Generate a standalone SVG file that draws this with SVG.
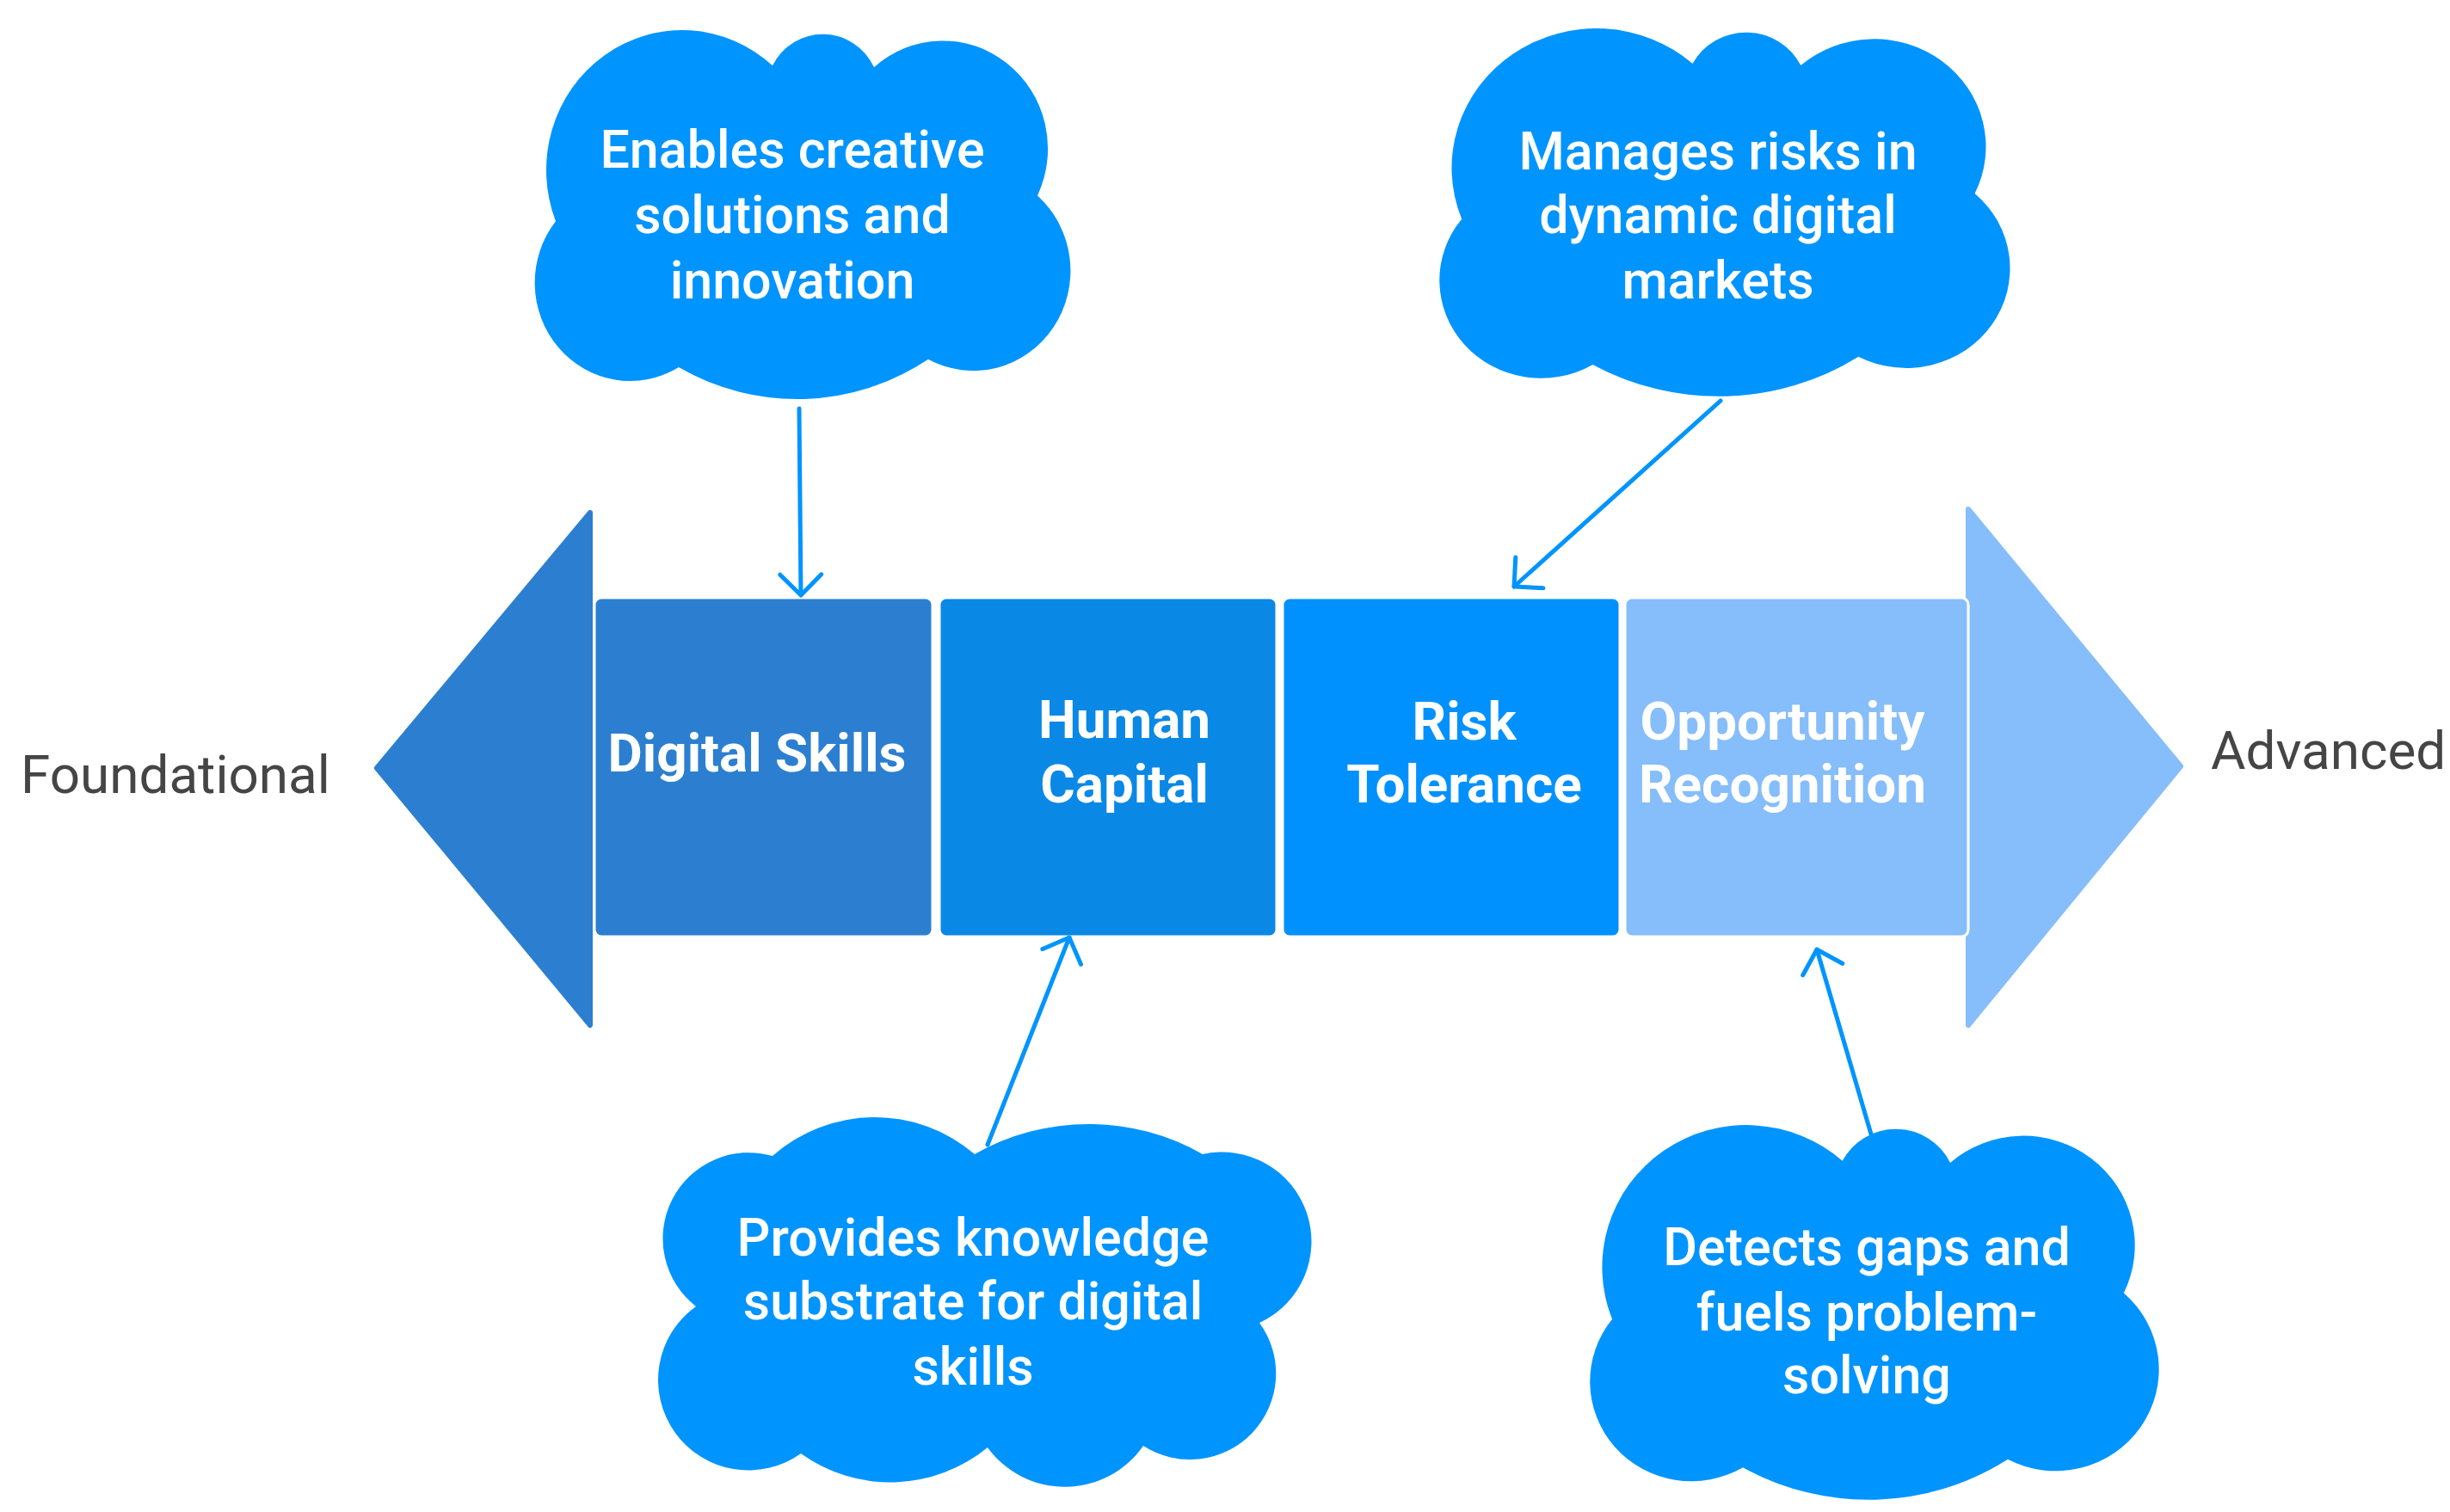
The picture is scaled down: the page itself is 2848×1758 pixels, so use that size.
<svg xmlns="http://www.w3.org/2000/svg" width="2848" height="1758" viewBox="0 0 2848 1758">
<defs>
<style>
.cloud{fill:#0094FF;}
.ct{font-family:Roboto,"Liberation Sans",sans-serif;font-size:61px;font-weight:500;fill:#FFFFFF;text-anchor:middle;}
.bt{font-family:Roboto,"Liberation Sans",sans-serif;font-size:62px;font-weight:700;fill:#FFFFFF;text-anchor:middle;}
.lbl{font-family:Roboto,"Liberation Sans",sans-serif;font-size:62px;fill:#454545;}
.box{stroke:#FFFFFF;stroke-width:3;}
.conn{fill:none;stroke:#0094FF;stroke-width:5;stroke-linecap:round;}
</style>
<path id="cloudA" d="M34,217 A158,158 0 0 1 286,41 A66,66 0 0 1 404,43 A122,122 0 0 1 594,188 A113,113 0 0 1 467,373 A281,281 0 0 1 177,382 A111,111 0 0 1 34,217 Z"/>
<marker id="chev" markerUnits="userSpaceOnUse" markerWidth="60" markerHeight="60" refX="0" refY="0" orient="auto" overflow="visible">
<path d="M-24,-24 L0,0 L-24,24" fill="none" stroke="#0094FF" stroke-width="5" stroke-linecap="round" stroke-linejoin="round"/>
</marker>
</defs>
<rect width="2848" height="1758" fill="#FFFFFF"/>

<g id="left-arrow">
<polygon points="686,596 438,893 686,1192" fill="#2C7FD0" stroke="#2C7FD0" stroke-width="6" stroke-linejoin="round"/>
</g>
<g id="right-arrow">
<polygon points="2288,592 2535,891 2288,1192" fill="#86BDFB" stroke="#86BDFB" stroke-width="6" stroke-linejoin="round"/>
</g>

<g id="node-digital-skills">
<rect class="box" x="691" y="695" width="393" height="394" rx="8" fill="#2C7FD0"/>
<text class="bt" x="880" y="897">Digital Skills</text>
</g>
<g id="node-human-capital">
<rect class="box" x="1092" y="695" width="392" height="394" rx="8" fill="#0A88E6"/>
<text class="bt" x="1307" y="858">Human</text>
<text class="bt" x="1307" y="933">Capital</text>
</g>
<g id="node-risk-tolerance">
<rect class="box" x="1491" y="695" width="392" height="394" rx="8" fill="#0091FF"/>
<text class="bt" x="1702" y="860">Risk</text>
<text class="bt" x="1702" y="933">Tolerance</text>
</g>
<g id="node-opportunity-recognition">
<rect class="box" x="1889" y="695" width="399" height="394" rx="8" fill="#86BDFB"/>
<text class="bt" x="2072" y="860">Opportunity</text>
<text class="bt" x="2072" y="933">Recognition</text>
</g>

<g id="label-foundational">
<text class="lbl" x="24" y="922">Foundational</text>
</g>
<g id="label-advanced">
<text class="lbl" x="2570" y="894">Advanced</text>
</g>

<g id="cloud-enables">
<use href="#cloudA" class="cloud" transform="translate(612,34) scale(1,1.029)"/>
<text class="ct" x="921" y="195">Enables creative</text>
<text class="ct" x="921" y="271">solutions and</text>
<text class="ct" x="921" y="347">innovation</text>
</g>
<g id="cloud-manages">
<use href="#cloudA" class="cloud" transform="translate(1663,32) scale(1.065,1.026)"/>
<text class="ct" x="1997" y="197">Manages risks in</text>
<text class="ct" x="1997" y="271">dynamic digital</text>
<text class="ct" x="1997" y="347">markets</text>
</g>
<g id="cloud-provides">
<path class="cloud" d="M809,1519 A100,100 0 0 1 898,1344 A179,179 0 0 1 1133,1342 A268,268 0 0 1 1398,1342 A104,104 0 0 1 1464,1538 A100,100 0 0 1 1329,1681 A111,111 0 0 1 1148,1683 A178,178 0 0 1 931,1690 A104,104 0 0 1 809,1519 Z"/>
<text class="ct" x="1131" y="1460">Provides knowledge</text>
<text class="ct" x="1131" y="1534">substrate for digital</text>
<text class="ct" x="1131" y="1610">skills</text>
</g>
<g id="cloud-detects">
<use href="#cloudA" class="cloud" transform="translate(1838,1307) scale(1.062,1.045)"/>
<text class="ct" x="2170" y="1471">Detects gaps and</text>
<text class="ct" x="2170" y="1547">fuels problem-</text>
<text class="ct" x="2170" y="1620">solving</text>
</g>

<g id="connectors">
<line class="conn" x1="929" y1="475" x2="931" y2="692" marker-end="url(#chev)"/>
<line class="conn" x1="2000" y1="466" x2="1760" y2="682" marker-end="url(#chev)"/>
<line class="conn" x1="1148" y1="1331" x2="1243" y2="1090" marker-end="url(#chev)"/>
<line class="conn" x1="2176" y1="1322" x2="2112" y2="1104" marker-end="url(#chev)"/>
</g>
</svg>
